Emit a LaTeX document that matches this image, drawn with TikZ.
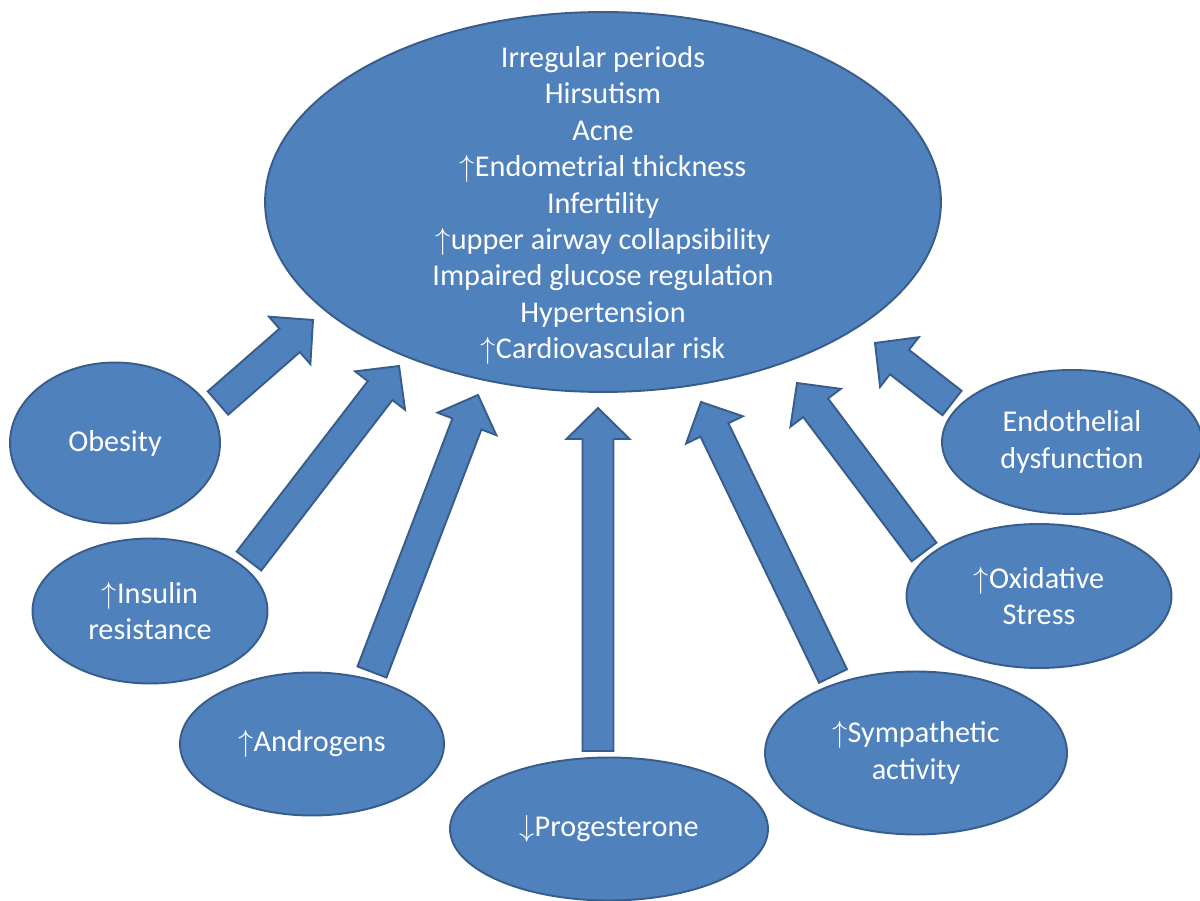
\documentclass[tikz,border=0pt]{standalone}
\usepackage{fontspec}
\setmainfont{Carlito}
\usetikzlibrary{shapes.geometric,calc}

\definecolor{boxblue}{HTML}{4F81BD}
\definecolor{edgeblue}{HTML}{385D8A}

\newcommand{\uparr}{$\uparrow$}
\newcommand{\downarr}{$\downarrow$}

\tikzset{
  blob/.style 2 args={ellipse, draw=edgeblue, fill=boxblue, line width=1.1pt,
    inner sep=0pt, minimum width=#1, minimum height=#2, text=white,
    align=center, font=\fontsize{17.2}{20.7}\selectfont},
  fat arrow/.style={draw=edgeblue, fill=boxblue, line width=1.1pt}
}

% block arrow from tail #1 to tip #2
\newcommand{\fatarrow}[2]{%
  \coordinate (hb) at ($(#2)!0.62cm!(#1)$);
  \draw[fat arrow] ($(#1)!0.31cm!90:(#2)$) -- ($(hb)!0.31cm!90:(#2)$)
    -- ($(hb)!0.63cm!90:(#2)$) -- (#2) -- ($(hb)!0.63cm!-90:(#2)$)
    -- ($(hb)!0.31cm!-90:(#2)$) -- ($(#1)!0.31cm!-90:(#2)$) -- cycle;}

\begin{document}
\begin{tikzpicture}[x=0.02cm, y=-0.02cm]
  \useasboundingbox (0,0) rectangle (1200,901);

  % effects
  \node[blob={13.52cm}{7.6cm}, inner ysep=-0.75cm] (pcos) at (603,202)
    {\rule{0pt}{16pt}Irregular periods\\Hirsutism\\Acne\\\uparr Endometrial thickness\\Infertility\\
     \uparr upper airway collapsibility\\Impaired glucose regulation\\Hypertension\\
     \uparr Cardiovascular risk};

  % causes
  \node[blob={4.2cm}{3.22cm}] (obesity) at (115,443) {Obesity};
  \node[blob={4.7cm}{2.9cm}] (insulin) at (150,611) {\uparr Insulin\\resistance};
  \node[blob={5.28cm}{2.86cm}] (androgens) at (312,744) {\uparr Androgens};
  \node[blob={6.36cm}{2.86cm}] (progest) at (609,829) {\downarr Progesterone};
  \node[blob={6.04cm}{3.26cm}] (sympath) at (916,753) {\uparr Sympathetic\\activity};
  \node[blob={5.3cm}{2.88cm}] (oxid) at (1039,596) {\uparr Oxidative\\Stress};
  \node[blob={5.2cm}{2.88cm}] (endoth) at (1072,442) {Endothelial\\dysfunction};

  % arrow ends
  \coordinate (ob-t) at (218,403);  \coordinate (ob-h) at (313,320);
  \coordinate (in-t) at (249,561);  \coordinate (in-h) at (399,366);
  \coordinate (an-t) at (372,672);  \coordinate (an-h) at (478,395);
  \coordinate (pr-t) at (598,751);  \coordinate (pr-h) at (598,408);
  \coordinate (sy-t) at (833,676);  \coordinate (sy-h) at (701,402);
  \coordinate (ox-t) at (924,552);  \coordinate (ox-h) at (797,383);
  \coordinate (en-t) at (952,403);  \coordinate (en-h) at (875,343);

  \foreach \a/\b in {ob-t/ob-h, in-t/in-h, an-t/an-h, pr-t/pr-h, sy-t/sy-h, ox-t/ox-h, en-t/en-h}
    {\fatarrow{\a}{\b}}
\end{tikzpicture}
\end{document}
